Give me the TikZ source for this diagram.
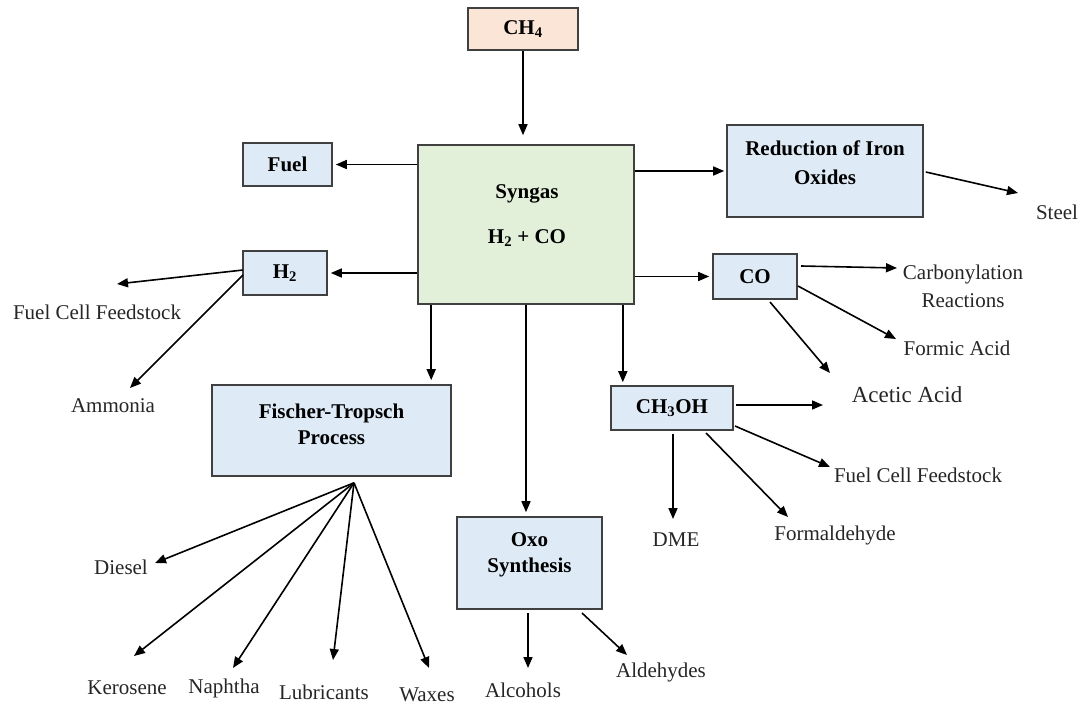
\documentclass[tikz,border=0pt]{standalone}
\usepackage{fontspec}
\setmainfont{Liberation Serif}
\usetikzlibrary{arrows.meta,calc}
\definecolor{peach}{HTML}{FBE5D6}
\definecolor{sgreen}{HTML}{E2F0D9}
\definecolor{sblue}{HTML}{DEEBF7}
\definecolor{edge}{HTML}{404040}
\begin{document}
\begin{tikzpicture}[x=1pt,y=-1pt,
  box/.style={draw=edge,line width=1.6pt,inner sep=0pt,align=center,
    font=\fontsize{21}{26}\selectfont\bfseries},
  bluebox/.style={box,fill=sblue},
  btxt/.style={font=\fontsize{21}{26}\selectfont\bfseries,align=center,inner sep=0pt},
  txt/.style={font=\fontsize{21}{28}\selectfont,text=black!85,align=center,inner sep=0pt},
  arr/.style={-{Triangle[length=11pt,width=9pt]},line width=1.6pt},
]
\useasboundingbox[fill=white] (0,0) rectangle (1087,706);

% process boxes
\node[box,fill=peach,minimum width=110pt,minimum height=42pt] (ch4) at (523,29) {CH\textsubscript{4}};
\node[box,fill=sgreen,minimum width=216pt,minimum height=159pt] (syn) at (526,224.5) {};
\node[btxt] (synT) at (527,215.5) {Syngas\\[19pt]H\textsubscript{2} + CO};
\node[bluebox,minimum width=89pt,minimum height=43pt] (fuel) at (287.5,164.5) {Fuel};
\node[bluebox,minimum width=84pt,minimum height=44pt] (h2) at (285,273) {H\textsubscript{2}};
\node[bluebox,minimum width=196pt,minimum height=92pt] (red) at (825,171) {};
\node[btxt] (redT) at (825,162.5) {Reduction of Iron\\[3pt]Oxides};
\node[bluebox,minimum width=84pt,minimum height=45pt] (co) at (755,276.5) {CO};
\node[bluebox,minimum width=122pt,minimum height=44pt] (meoh) at (672,408) {CH\textsubscript{3}OH};
\node[bluebox,minimum width=239pt,minimum height=91pt] (ft) at (331.5,430.5) {};
\node[btxt] (ftT) at (331.5,424) {Fischer-Tropsch\\Process};
\node[bluebox,minimum width=145pt,minimum height=92pt] (oxo) at (529.5,563) {};
\node[btxt] (oxoT) at (529.5,555) {Oxo\\Synthesis};

% product labels
\node[txt] (steel) at (1057,212) {Steel};
\node[txt] (carb) at (963,286) {Carbonylation\\Reactions};
\node[txt] (formic) at (957,348) {Formic Acid};
\node[txt,font=\fontsize{23}{26}\selectfont] (acetic) at (907,395) {Acetic Acid};
\node[txt] (fcfR) at (918,475) {Fuel Cell Feedstock};
\node[txt] (dme) at (676,540) {DME};
\node[txt] (formald) at (835,535) {Formaldehyde};
\node[txt] (fcfL) at (97,312) {Fuel Cell Feedstock};
\node[txt] (ammonia) at (113,406) {Ammonia};
\node[txt] (diesel) at (121,567) {Diesel};
\node[txt] (kerosene) at (127,688) {Kerosene};
\node[txt] (naphtha) at (224,688) {Naphtha};
\node[txt] (lubricants) at (324,692) {Lubricants};
\node[txt] (waxes) at (427,695) {Waxes};
\node[txt] (alcohols) at (523,690) {Alcohols};
\node[txt] (aldehydes) at (661,672) {Aldehydes};

% syngas feed and outputs
\draw[arr,shorten >=9pt] (ch4.south) -- (ch4.south |- syn.north);
\draw[arr,shorten >=3pt] (syn.west |- fuel.east) -- (fuel.east);
\draw[arr,shorten >=3pt] (syn.west |- h2.east) -- (h2.east);
\draw[arr,shorten >=2pt] (syn.east |- red.west) -- (red.west);
\draw[arr,shorten >=3pt] (syn.east |- co.west) -- (co.west);
\coordinate (sFT) at ($(syn.south west)+(14,0)$);
\draw[arr,shorten >=4pt] (sFT) -- (sFT |- ft.north);
\draw[arr,shorten >=4pt] (syn.south) -- (syn.south |- oxo.north);
\coordinate (sMe) at ($(syn.south east)+(-12,0)$);
\draw[arr,shorten >=3pt] (sMe) -- (sMe |- meoh.north);

% iron oxide reduction
\draw[arr] ($(red.east)+(2,1)$) -- ($(steel)+(-39,-19)$);

% carbon monoxide routes
\draw[arr] ($(co)+(46,-10.5)$) -- ($(carb)+(-66,-18)$);
\draw[arr] ($(co)+(43,9.5)$) -- ($(formic)+(-61,-9)$);
\draw[arr] ($(co)+(15,25.5)$) -- ($(acetic)+(-77,-22)$);

% methanol routes
\draw[arr] ($(meoh)+(64,-3)$) -- ($(acetic)+(-84,10)$);
\draw[arr] ($(meoh)+(63,18)$) -- ($(fcfR)+(-88,-8)$);
\draw[arr] ($(meoh)+(1,26)$) -- ($(dme)+(-3,-21)$);
\draw[arr] ($(meoh)+(34,25)$) -- ($(formald)+(-47,-18)$);

% hydrogen routes
\draw[arr] ($(h2)+(-42,-3)$) -- ($(fcfL)+(20,-28)$);
\draw[arr] ($(h2)+(-42,2)$) -- ($(ammonia)+(17,-18)$);

% Fischer-Tropsch products
\coordinate (fan) at ($(ft.south)+(22.5,6)$);
\draw[arr] (fan) -- ($(diesel)+(34,-4)$);
\draw[arr] (fan) -- ($(kerosene)+(7,-32)$);
\draw[arr] (fan) -- ($(naphtha)+(9,-20)$);
\draw[arr] (fan) -- ($(lubricants)+(9,-32)$);
\draw[arr] (fan) -- ($(waxes)+(2,-27)$);

% oxo synthesis products
\draw[arr] ($(oxo)+(-1.5,50)$) -- ($(alcohols)+(5,-22)$);
\draw[arr] ($(oxo)+(52.5,50)$) -- ($(aldehydes)+(-34,-17)$);
\end{tikzpicture}
\end{document}
